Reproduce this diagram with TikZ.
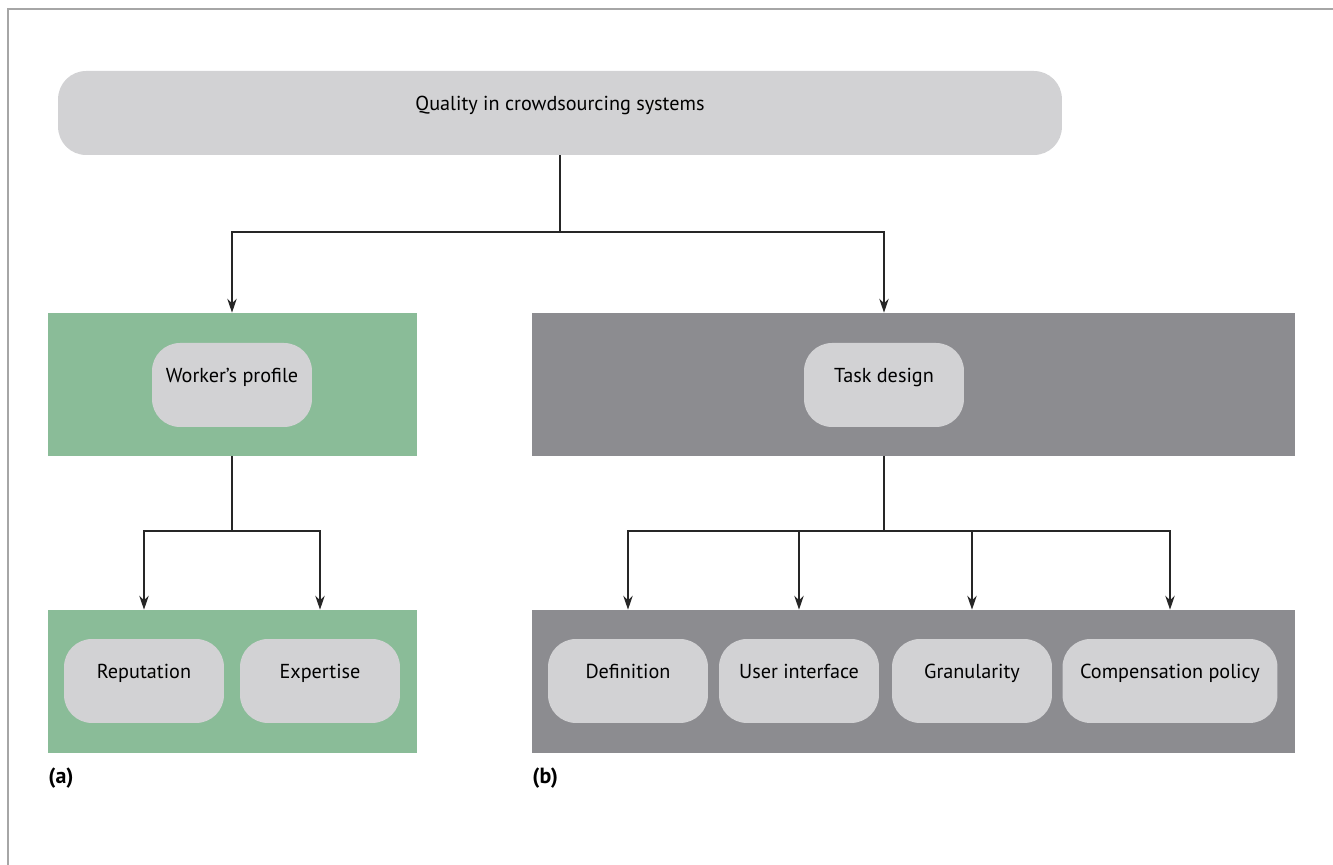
\documentclass[tikz,border=0pt]{standalone}
\usepackage{fontspec}
\setmainfont{PT Sans}
\usetikzlibrary{arrows.meta}
\definecolor{pillgray}{HTML}{D2D2D4}
\definecolor{profgreen}{HTML}{8ABC98}
\definecolor{taskgray}{HTML}{8C8C90}
\definecolor{framegray}{HTML}{A6A6A6}
\begin{document}
\begin{tikzpicture}[x=0.02cm, y=0.02cm,
    pill/.style={fill=pillgray, rounded corners=0.56cm, minimum height=1.68cm,
                 minimum width=3.2cm, inner sep=0pt, text height=8pt, text depth=10.8pt,
                 font=\fontsize{11.5}{14}\selectfont},
    panel/.style={minimum width=7.38cm, minimum height=2.86cm, inner sep=0pt},
    tag/.style={anchor=west, inner sep=0pt, font=\fontsize{12.5}{15}\selectfont\bfseries},
    wire/.style={line width=0.7pt, draw=black!85},
    link/.style={wire, -{Stealth[length=0.28cm, width=0.19cm]}}]
    \useasboundingbox (0, 0) rectangle (1333, 865);
    \draw[framegray, line width=1.1pt] (8, 0) -- (8, 856) -- (1333, 856);
    \node[pill, minimum width=20.08cm] (quality) at (560, 752) {Quality in crowdsourcing systems};
    \node[panel, fill=profgreen] (profpanel) at (232.5, 480.5) {};
    \node[panel, fill=taskgray, minimum width=15.26cm] (taskpanel) at (913.5, 480.5) {};
    \node[panel, fill=profgreen] (attrpanel) at (232.5, 183.5) {};
    \node[panel, fill=taskgray, minimum width=15.26cm] (aspectpanel) at (913.5, 183.5) {};
    \node[pill] (profile) at (232, 480) {Worker’s profile};
    \node[pill] (task) at (884, 480) {Task design};
    \node[pill] (reputation) at (144, 184) {Reputation};
    \node[pill] (expertise) at (320, 184) {Expertise};
    \node[pill] (definition) at (628, 184) {Definition};
    \node[pill] (interface) at (799, 184) {User interface};
    \node[pill] (granularity) at (972, 184) {Granularity};
    \node[pill, minimum width=4.3cm] (compensation) at (1170, 184) {Compensation policy};
    \node[tag] (laba) at (48, 87) {(a)};
    \node[tag] (labb) at (532, 87) {(b)};
    \coordinate (qsplit) at (560, 633);
    \coordinate (psplit) at (232, 334);
    \coordinate (tsplit) at (884, 334);
    \draw[wire] (quality) -- (qsplit);
    \draw[link] (qsplit) -| (profile |- profpanel.north);
    \draw[link] (qsplit) -| (task |- taskpanel.north);
    \draw[wire] (profile |- profpanel.south) -- (psplit);
    \foreach \n in {reputation,expertise}
        \draw[link] (psplit) -| (\n |- attrpanel.north);
    \draw[wire] (task |- taskpanel.south) -- (tsplit);
    \foreach \n in {definition,interface,granularity,compensation}
        \draw[link] (tsplit) -| (\n |- aspectpanel.north);
\end{tikzpicture}
\end{document}
